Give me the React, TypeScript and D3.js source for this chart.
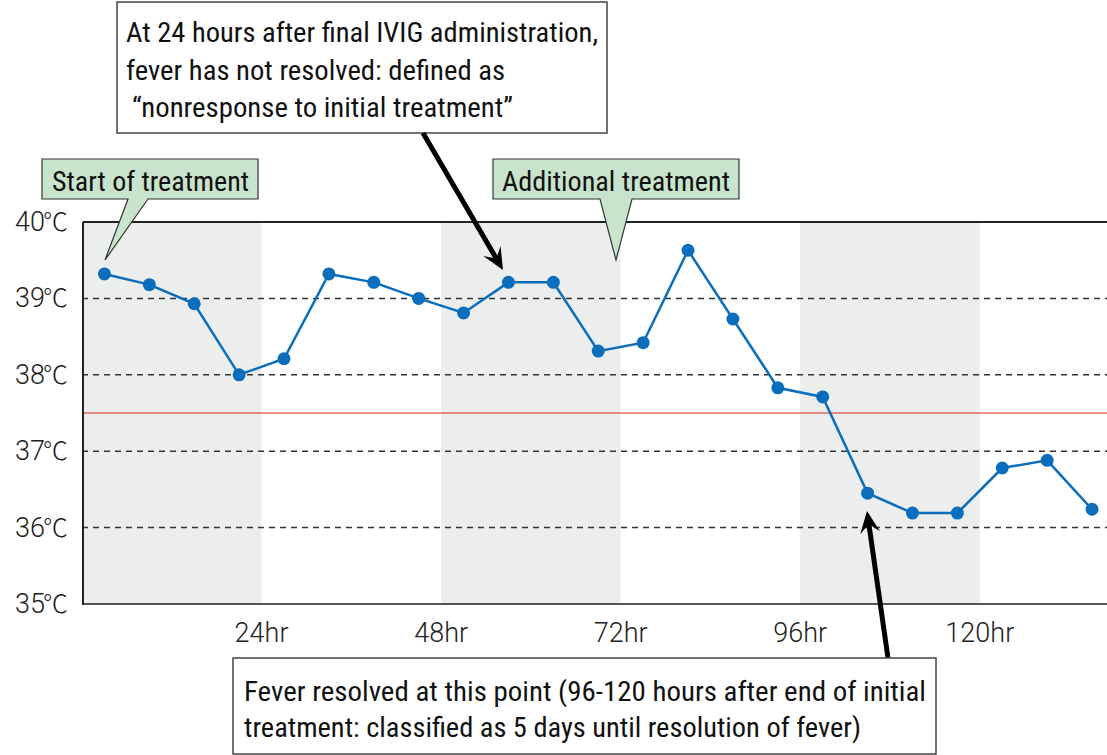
import React from "react";
import * as d3 from "d3";

const hours = [3, 9, 15, 21, 27, 33, 39, 45, 51, 57, 63, 69, 75, 81, 87, 93, 99, 105, 111, 117, 123, 129, 135];
const temps = [39.32, 39.18, 38.93, 38.0, 38.21, 39.32, 39.21, 39.0, 38.81, 39.21, 39.21, 38.31, 38.42, 39.63, 38.73, 37.83, 37.71, 36.45, 36.19, 36.19, 36.78, 36.88, 36.24];
const yTicks = [35, 36, 37, 38, 39, 40];
const dashedLevels = [36, 37, 38, 39];
const feverThreshold = 37.5;
const xTicks = [24, 48, 72, 96, 120];
const shadedBands: [number, number][] = [[0, 24], [48, 72], [96, 120]];

const W = 1107;
const H = 755;
const condensed = "'Liberation Sans Narrow', 'Roboto Condensed', Roboto, Arial, sans-serif";
const axisFont = "Roboto, 'Liberation Sans', Arial, sans-serif";
const cjkFont = "'Noto Sans CJK JP', 'Noto Sans CJK SC', sans-serif";

export default function App() {
  const x = d3.scaleLinear().domain([0, 137]).range([82, 1107]);
  const y = d3.scaleLinear().domain([35, 40]).range([604, 222]);
  const line = d3
    .line<number>()
    .x((_, i) => x(hours[i]))
    .y((d) => y(d));

  const arrowHead = (x1: number, y1: number, x2: number, y2: number, len = 22, half = 10) => {
    const ang = Math.atan2(y2 - y1, x2 - x1);
    const bx = x2 - len * Math.cos(ang);
    const by = y2 - len * Math.sin(ang);
    const px = -Math.sin(ang);
    const py = Math.cos(ang);
    const nx = x2 - (len * 0.6) * Math.cos(ang);
    const ny = y2 - (len * 0.6) * Math.sin(ang);
    return {
      head: `M${x2},${y2} L${bx + px * half},${by + py * half} L${nx},${ny} L${bx - px * half},${by - py * half} Z`,
      sx: nx,
      sy: ny,
    };
  };

  const a1 = arrowHead(423, 133, 503, 270);
  const a2 = arrowHead(888, 658, 867, 511);

  return (
    <svg width={W} height={H} style={{ position: "absolute", left: 0, top: 0, background: "#fff" }}>
      {shadedBands.map(([a, b], i) => (
        <rect key={i} x={x(a)} y={y(40)} width={x(b) - x(a)} height={y(35) - y(40)} fill="#eceeed" />
      ))}
      {dashedLevels.map((v) => (
        <line key={v} x1={x(0)} x2={W} y1={y(v)} y2={y(v)} stroke="#333" strokeWidth={1.5} strokeDasharray="6,5" />
      ))}
      <line x1={x(0)} x2={W} y1={y(feverThreshold)} y2={y(feverThreshold)} stroke="#d8271d" strokeWidth={1} />
      <line x1={x(0) + 1} x2={W} y1={y(40)} y2={y(40)} stroke="#222" strokeWidth={2} />
      <line x1={x(0) + 1} x2={W} y1={y(35)} y2={y(35)} stroke="#555" strokeWidth={2} />
      <line x1={x(0) + 1} x2={x(0) + 1} y1={y(40)} y2={y(35) + 1} stroke="#222" strokeWidth={2} />

      {yTicks.map((v) => (
        <text key={v} x={68} y={y(v) + 9} textAnchor="end" fontFamily={axisFont} fontWeight={300} fontSize={27} fill="#222">
          {v}
          <tspan fontFamily={cjkFont} fontWeight={300} fontSize={25} dx={-2}>℃</tspan>
        </text>
      ))}
      {xTicks.map((v) => (
        <text key={v} x={x(v)} y={642} textAnchor="middle" fontFamily={axisFont} fontWeight={300} fontSize={27} fill="#222">
          {v}hr
        </text>
      ))}

      <path d={line(temps) || ""} fill="none" stroke="#0a6ebd" strokeWidth={2.5} />
      {temps.map((t, i) => (
        <circle key={i} cx={x(hours[i])} cy={y(t)} r={6.5} fill="#0a6ebd" />
      ))}

      {/* Start of treatment callout */}
      <path
        d="M42,159 L258,159 L258,199 L148,199 L105,260 L128,199 L42,199 Z"
        fill="#c8e4cc"
        stroke="#333"
        strokeWidth={1.2}
      />
      <text x={52} y={191} fontFamily={condensed} fontSize={28} fill="#111" textLength={197} lengthAdjust="spacingAndGlyphs">
        Start of treatment
      </text>

      {/* Additional treatment callout */}
      <path
        d="M493,159 L739,159 L739,199 L632,199 L616,260 L600,199 L493,199 Z"
        fill="#c8e4cc"
        stroke="#333"
        strokeWidth={1.2}
      />
      <text x={502} y={191} fontFamily={condensed} fontSize={28} fill="#111" textLength={228} lengthAdjust="spacingAndGlyphs">
        Additional treatment
      </text>

      {/* Nonresponse box */}
      <rect x={117} y={2} width={490} height={131} fill="#fff" stroke="#444" strokeWidth={1.5} />
      <text fontFamily={condensed} fontSize={28} fill="#111">
        <tspan x={126} y={42} textLength={472} lengthAdjust="spacingAndGlyphs">At 24 hours after final IVIG administration,</tspan>
        <tspan x={126} y={80} textLength={379} lengthAdjust="spacingAndGlyphs">fever has not resolved: defined as</tspan>
        <tspan x={132} y={117} textLength={381} lengthAdjust="spacingAndGlyphs">“nonresponse to initial treatment”</tspan>
      </text>
      <line x1={423} y1={133} x2={a1.sx} y2={a1.sy} stroke="#000" strokeWidth={5} />
      <path d={a1.head} fill="#000" />

      {/* Resolution box */}
      <line x1={888} y1={658} x2={a2.sx} y2={a2.sy} stroke="#000" strokeWidth={5} />
      <path d={a2.head} fill="#000" />
      <rect x={233} y={658} width={703} height={96} fill="#fff" stroke="#444" strokeWidth={1.5} />
      <text fontFamily={condensed} fontSize={28} fill="#111">
        <tspan x={244} y={701} textLength={682} lengthAdjust="spacingAndGlyphs">Fever resolved at this point (96-120 hours after end of initial</tspan>
        <tspan x={244} y={737} textLength={617} lengthAdjust="spacingAndGlyphs">treatment: classified as 5 days until resolution of fever)</tspan>
      </text>
    </svg>
  );
}
